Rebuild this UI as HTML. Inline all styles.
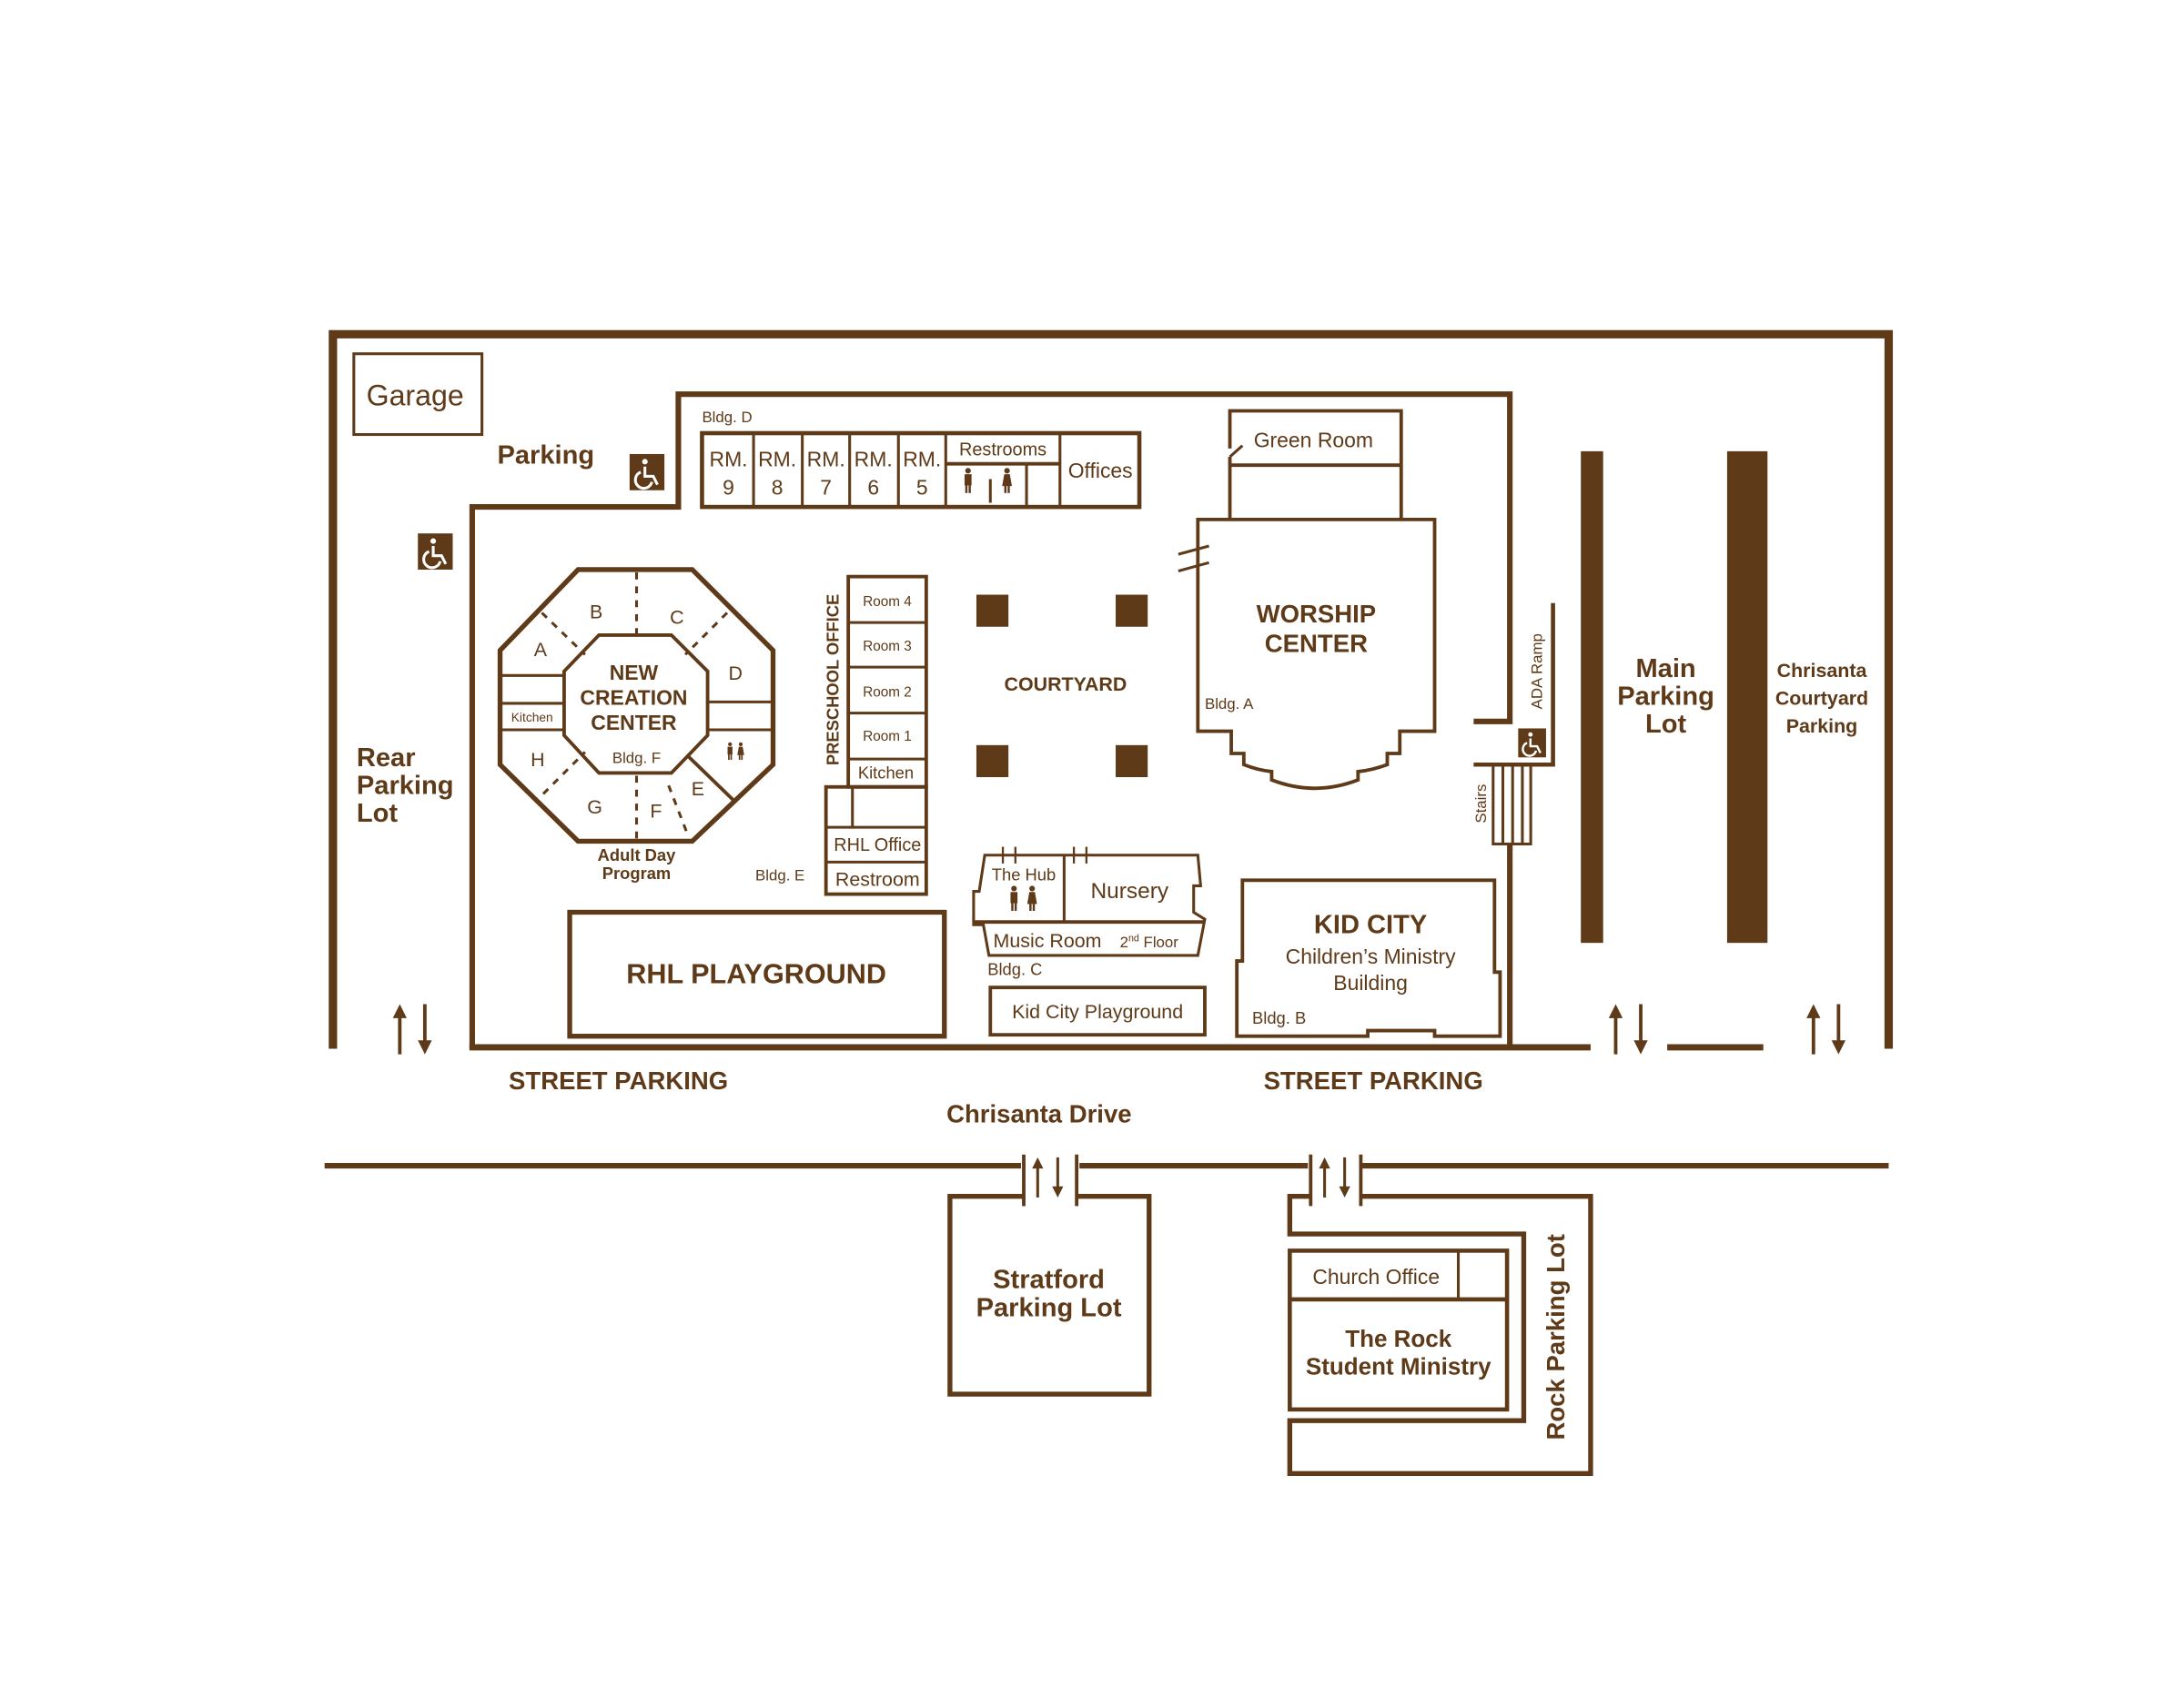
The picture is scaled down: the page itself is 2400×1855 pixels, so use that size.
<!DOCTYPE html>
<html><head><meta charset="utf-8"><style>
html,body{margin:0;padding:0;background:#fff;}
svg{display:block;}
text{font-family:"Liberation Sans",sans-serif;fill:#5e3a18;}
</style></head><body>
<svg width="2400" height="1855" viewBox="0 0 1568 1212" xmlns="http://www.w3.org/2000/svg">
<defs>
<g id="ar" stroke="#5e3a18" stroke-width="2.5" fill="#5e3a18"><line x1="0" y1="6" x2="0" y2="36"/><polygon points="-5,10 5,10 0,0" stroke="none"/><line x1="18" y1="0" x2="18" y2="30"/><polygon points="13,26 23,26 18,36" stroke="none"/></g>
<g id="hc"><rect x="0" y="0" width="25" height="26" fill="#5e3a18"/><g fill="none" stroke="#fff" stroke-width="2"><circle cx="11" cy="5.5" r="2" fill="#fff" stroke="none"/><path d="M11,9 V16 H17 L20,22"/><path d="M8,13 A6,6 0 1 0 16,20"/></g></g>
<g id="man" fill="#5e3a18"><circle cx="3" cy="2" r="2"/><rect x="0.5" y="4.5" width="5" height="8"/><rect x="1" y="11" width="1.6" height="7"/><rect x="3.4" y="11" width="1.6" height="7"/></g>
<g id="wom" fill="#5e3a18"><circle cx="3" cy="2" r="2"/><polygon points="1,4.5 5,4.5 6.5,13 -0.5,13"/><rect x="1" y="12" width="1.6" height="6"/><rect x="3.4" y="12" width="1.6" height="6"/></g>
</defs>
<g fill="none" stroke="#5e3a18" stroke-width="3">
<polyline points="239,753 239,240 1356,240 1356,753" stroke-width="6"/>
<rect x="254" y="254" width="92" height="58" stroke-width="2"/>
<polyline points="339,753 339,364 487,364 487,283 1084,283 1084,518 1058,518" stroke-width="4"/>
<polyline points="1058,549 1115,549 1115,433" stroke-width="3"/>
<polyline points="1084,606 1084,753" stroke-width="4"/>
<line x1="337" y1="752" x2="1142" y2="752" stroke-width="4.5"/>
<line x1="1197" y1="752" x2="1266" y2="752" stroke-width="4.5"/>
<rect x="1072" y="549" width="27" height="57" stroke-width="2"/>
<line x1="1079" y1="549" x2="1079" y2="606" stroke-width="2"/>
<line x1="1086" y1="549" x2="1086" y2="606" stroke-width="2"/>
<line x1="1093" y1="549" x2="1093" y2="606" stroke-width="2"/>
<rect x="504" y="311" width="314" height="53"/>
<line x1="541" y1="311" x2="541" y2="364" stroke-width="2"/>
<line x1="576" y1="311" x2="576" y2="364" stroke-width="2"/>
<line x1="610" y1="311" x2="610" y2="364" stroke-width="2"/>
<line x1="645" y1="311" x2="645" y2="364" stroke-width="2"/>
<line x1="679" y1="311" x2="679" y2="364" stroke-width="2"/>
<line x1="761" y1="311" x2="761" y2="364" stroke-width="2"/>
<line x1="679" y1="333" x2="761" y2="333" stroke-width="2.5"/>
<line x1="737" y1="333" x2="737" y2="364" stroke-width="2"/>
<line x1="711" y1="344" x2="711" y2="361" stroke-width="2"/>
<polygon points="415,409 497,409 555,467 555,549 497,604 415,604 359,549 359,467" stroke-width="3.5"/>
<polygon points="430,456 482,456 508,482 508,528 482,555 430,555 405,528 405,482" stroke-width="2.5"/>
<line x1="359" y1="485" x2="405" y2="485" stroke-width="2"/>
<line x1="359" y1="505" x2="405" y2="505" stroke-width="2"/>
<line x1="359" y1="524" x2="405" y2="524" stroke-width="2"/>
<line x1="508" y1="504" x2="555" y2="504" stroke-width="2"/>
<line x1="508" y1="524" x2="555" y2="524" stroke-width="2"/>
<line x1="493" y1="542" x2="527" y2="575" stroke-width="2.5"/>
<g stroke-dasharray="5,5" stroke-width="2">
<line x1="457" y1="411" x2="457" y2="456"/>
<line x1="389" y1="440" x2="420" y2="470"/>
<line x1="522" y1="440" x2="492" y2="470"/>
<line x1="390" y1="570" x2="420" y2="540"/>
<line x1="457" y1="557" x2="457" y2="602"/>
<line x1="480" y1="564" x2="494" y2="600"/>
</g>
<rect x="609" y="414" width="56" height="151" stroke-width="2.5"/>
<line x1="609" y1="447" x2="665" y2="447" stroke-width="2"/>
<line x1="609" y1="479" x2="665" y2="479" stroke-width="2"/>
<line x1="609" y1="512" x2="665" y2="512" stroke-width="2"/>
<line x1="609" y1="545" x2="665" y2="545" stroke-width="2"/>
<rect x="593" y="565" width="72" height="77" stroke-width="2.5"/>
<line x1="612" y1="565" x2="612" y2="594" stroke-width="2"/>
<line x1="593" y1="594" x2="665" y2="594" stroke-width="2"/>
<line x1="593" y1="619" x2="665" y2="619" stroke-width="2"/>
<polyline points="883,322 883,295 1006,295 1006,373" stroke-width="2.5"/>
<line x1="883" y1="328" x2="892" y2="320" stroke-width="2"/>
<line x1="883" y1="328" x2="883" y2="373" stroke-width="2.5"/>
<line x1="883" y1="334" x2="1006" y2="334" stroke-width="2.5"/>
<path d="M860,373 H1030 V525 H1005 V541 H996 V549 Q985,553 975,554 V560 Q944,572 913,560 V554 Q903,553 893,549 V541 H884 V525 H860 Z" stroke-width="2.5"/>
<line x1="846" y1="398" x2="868" y2="392" stroke-width="2"/>
<line x1="846" y1="410" x2="868" y2="404" stroke-width="2"/>
<path d="M707,614 H860 L862,636 H857 V655 L865,660 L860,686 H710 L706,664 H699 V640 H703 Z" stroke-width="2"/>
<line x1="699" y1="662" x2="865" y2="662" stroke-width="2.5"/>
<line x1="764" y1="614" x2="764" y2="662" stroke-width="2"/>
<line x1="720" y1="608" x2="720" y2="620" stroke-width="1.5"/>
<line x1="729" y1="608" x2="729" y2="620" stroke-width="1.5"/>
<line x1="771" y1="608" x2="771" y2="620" stroke-width="1.5"/>
<line x1="780" y1="608" x2="780" y2="620" stroke-width="1.5"/>
<line x1="714" y1="614" x2="786" y2="614" stroke-width="1.5"/>
<rect x="711" y="709" width="154" height="34" stroke-width="2.5"/>
<rect x="409" y="655" width="269" height="89" stroke-width="3.5"/>
<path d="M892,632 H1073 V698 H1077 V744 H1030 V740 H982 V744 H888 V690 H892 Z" stroke-width="2.5"/>
<line x1="233" y1="837" x2="733" y2="837" stroke-width="4"/>
<line x1="775" y1="837" x2="939" y2="837" stroke-width="4"/>
<line x1="978" y1="837" x2="1356" y2="837" stroke-width="4"/>
<line x1="735" y1="829" x2="735" y2="866" stroke-width="2.5"/>
<line x1="773" y1="829" x2="773" y2="866" stroke-width="2.5"/>
<line x1="941" y1="829" x2="941" y2="866" stroke-width="2.5"/>
<line x1="977" y1="829" x2="977" y2="866" stroke-width="2.5"/>
<polyline points="735,859 682,859 682,1001 825,1001 825,859 773,859" stroke-width="3.5"/>
<polyline points="941,859 926,859 926,886 1094,886 1094,1020 926,1020 926,1058 1142,1058 1142,859 977,859" stroke-width="3.5"/>
<rect x="926" y="898" width="156" height="114" stroke-width="3"/>
<line x1="926" y1="933" x2="1082" y2="933" stroke-width="3"/>
<line x1="1047" y1="898" x2="1047" y2="933" stroke-width="2"/>
</g>
<g fill="#5e3a18">
<rect x="701" y="427" width="23" height="23"/><rect x="801" y="427" width="23" height="23"/>
<rect x="701" y="535" width="23" height="23"/><rect x="801" y="535" width="23" height="23"/>
<rect x="1135" y="324" width="16" height="353"/>
<rect x="1240" y="324" width="29" height="353"/>
</g>
<use href="#hc" x="452" y="326"/>
<use href="#hc" x="300" y="383"/>
<g transform="translate(1090,523) scale(0.8)"><use href="#hc"/></g>
<use href="#man" x="692" y="336"/><use href="#wom" x="720" y="336"/>
<use href="#man" x="725" y="636"/><use href="#wom" x="738" y="636"/>
<g transform="translate(522,533) scale(0.7)"><use href="#man"/><use href="#wom" x="11"/></g>
<use href="#ar" x="287" y="721"/><use href="#ar" x="1160" y="721"/><use href="#ar" x="1302" y="721"/>
<g transform="translate(745,831) scale(0.8)"><use href="#ar"/></g>
<g transform="translate(951,831) scale(0.8)"><use href="#ar"/></g>
<text x="298" y="291" font-size="21" text-anchor="middle">Garage</text>
<text x="357" y="333" font-size="19" font-weight="bold">Parking</text>
<text x="504" y="303" font-size="11">Bldg. D</text>
<g font-size="15" text-anchor="middle">
<text x="523" y="335">RM.</text><text x="523" y="355">9</text>
<text x="558" y="335">RM.</text><text x="558" y="355">8</text>
<text x="593" y="335">RM.</text><text x="593" y="355">7</text>
<text x="627" y="335">RM.</text><text x="627" y="355">6</text>
<text x="662" y="335">RM.</text><text x="662" y="355">5</text>
</g>
<text x="720" y="327" font-size="13" text-anchor="middle">Restrooms</text>
<text x="790" y="343" font-size="15" text-anchor="middle">Offices</text>
<g font-size="14" text-anchor="middle">
<text x="428" y="444">B</text><text x="486" y="448">C</text><text x="388" y="471">A</text><text x="528" y="488">D</text>
<text x="386" y="550">H</text><text x="427" y="584">G</text><text x="471" y="587">F</text><text x="501" y="571">E</text>
</g>
<text x="382" y="518" font-size="9" text-anchor="middle">Kitchen</text>
<g font-size="15" font-weight="bold" text-anchor="middle"><text x="455" y="488">NEW</text><text x="455" y="506">CREATION</text><text x="455" y="524">CENTER</text></g>
<text x="457" y="548" font-size="11" text-anchor="middle">Bldg. F</text>
<g font-size="12" font-weight="bold" text-anchor="middle"><text x="457" y="618">Adult Day</text><text x="457" y="631">Program</text></g>
<text x="598" y="488" font-size="12" font-weight="bold" text-anchor="middle" transform="rotate(-90 598 488)" dy="4">PRESCHOOL OFFICE</text>
<g font-size="10" text-anchor="middle"><text x="637" y="435">Room 4</text><text x="637" y="467">Room 3</text><text x="637" y="500">Room 2</text><text x="637" y="532">Room 1</text></g>
<text x="636" y="559" font-size="12" text-anchor="middle">Kitchen</text>
<text x="630" y="611" font-size="13" text-anchor="middle">RHL Office</text>
<text x="630" y="636" font-size="14" text-anchor="middle">Restroom</text>
<text x="560" y="632" font-size="11" text-anchor="middle">Bldg. E</text>
<text x="765" y="496" font-size="14" font-weight="bold" text-anchor="middle">COURTYARD</text>
<text x="943" y="321" font-size="15" text-anchor="middle">Green Room</text>
<g font-size="18" font-weight="bold" text-anchor="middle"><text x="945" y="447">WORSHIP</text><text x="945" y="468">CENTER</text></g>
<text x="865" y="509" font-size="11">Bldg. A</text>
<text x="1103" y="482" font-size="11" text-anchor="middle" transform="rotate(-90 1103 482)" dy="4">ADA Ramp</text>
<text x="1063" y="577" font-size="11" text-anchor="middle" transform="rotate(-90 1063 577)" dy="4">Stairs</text>
<g font-size="19" font-weight="bold" text-anchor="middle"><text x="1196" y="486">Main</text><text x="1196" y="506">Parking</text><text x="1196" y="526">Lot</text></g>
<g font-size="14" font-weight="bold" text-anchor="middle"><text x="1308" y="486">Chrisanta</text><text x="1308" y="506">Courtyard</text><text x="1308" y="526">Parking</text></g>
<g font-size="19" font-weight="bold"><text x="256" y="550">Rear</text><text x="256" y="570">Parking</text><text x="256" y="590">Lot</text></g>
<text x="735" y="632" font-size="12" text-anchor="middle">The Hub</text>
<text x="811" y="645" font-size="16" text-anchor="middle">Nursery</text>
<text x="752" y="680" font-size="14" text-anchor="middle">Music Room</text>
<text x="825" y="680" font-size="11" text-anchor="middle">2<tspan font-size="7" dy="-4">nd</tspan><tspan dy="4"> Floor</tspan></text>
<text x="709" y="700" font-size="12">Bldg. C</text>
<text x="788" y="731" font-size="14" text-anchor="middle">Kid City Playground</text>
<text x="543" y="706" font-size="20" font-weight="bold" text-anchor="middle">RHL PLAYGROUND</text>
<text x="984" y="670" font-size="19" font-weight="bold" text-anchor="middle">KID CITY</text>
<text x="984" y="692" font-size="15" text-anchor="middle">Children’s Ministry</text>
<text x="984" y="711" font-size="15" text-anchor="middle">Building</text>
<text x="899" y="735" font-size="12">Bldg. B</text>
<g font-size="18" font-weight="bold" text-anchor="middle"><text x="444" y="782">STREET PARKING</text><text x="986" y="782">STREET PARKING</text><text x="746" y="806">Chrisanta Drive</text></g>
<g font-size="19" font-weight="bold" text-anchor="middle"><text x="753" y="925">Stratford</text><text x="753" y="945">Parking Lot</text></g>
<text x="988" y="922" font-size="15" text-anchor="middle">Church Office</text>
<g font-size="17" font-weight="bold" text-anchor="middle"><text x="1004" y="967">The Rock</text><text x="1004" y="987">Student Ministry</text></g>
<text x="1117" y="960" font-size="18" font-weight="bold" text-anchor="middle" transform="rotate(-90 1117 960)" dy="6">Rock Parking Lot</text>
</svg>
</body></html>
